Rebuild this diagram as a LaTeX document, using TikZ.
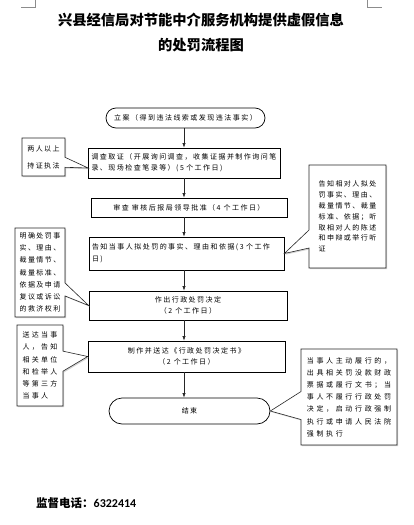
\documentclass[tikz,border=0pt]{standalone}
\usepackage{fontspec}
\setmainfont{Noto Sans CJK SC}
\newfontfamily\cjk{Noto Sans CJK SC}[LetterSpace=21]
\newfontfamily\numfont{Carlito}
\usetikzlibrary{shapes.misc,shapes.callouts,arrows.meta,shadows}
\begin{document}
\begin{tikzpicture}[x=1pt,y=-1pt,
  box/.style={draw, line width=0.7pt, inner sep=3pt, font=\cjk\fontsize{7}{11}\selectfont},
  term/.style={draw, rounded rectangle, line width=0.7pt, inner sep=2pt, font=\cjk\fontsize{7}{11}\selectfont},
  note/.style={rectangle callout, draw=black!85, line width=0.6pt, fill=white, align=left, inner sep=2pt,
    drop shadow={shadow xshift=1.2pt, shadow yshift=-1.2pt, fill=black!35},
    font=\cjk\fontsize{7}{12.2}\selectfont},
  arr/.style={-{Latex[length=4.5pt,width=3.2pt]}, line width=0.6pt, draw=black!85},
  crop/.style={draw=black!45, line width=0.6pt}
]
\useasboundingbox (0,0) rectangle (414,525);
% crop marks
\coordinate (k1) at (21,7); \coordinate (k2) at (35,7); \coordinate (k3) at (35,0);
\coordinate (k4) at (367,0); \coordinate (k5) at (367,7); \coordinate (k6) at (382,7);
\draw[crop] (k1) -- (k2) -- (k3);
\draw[crop] (k4) -- (k5) -- (k6);
% title
\node (t1) at (201,20) {\bfseries\fontsize{14.3}{16}\selectfont 兴县经信局对节能中介服务机构提供虚假信息};
\node (t2) at (201,45) {\bfseries\fontsize{14.3}{16}\selectfont 的处罚流程图};
% main flow
\node[term, minimum width=163pt, minimum height=20pt] (start) at (185.5,118) {立案（得到违法线索或发现违法事实）};
\node[box, minimum width=192pt, minimum height=30pt, text width=186pt, align=left] (b2) at (184.5,163)
  {调查取证（开展询问调查，收集证据并制作询问笔\\录、现场检查笔录等）(5 个工作日)};
\node[box, minimum width=196pt, minimum height=19pt] (b3) at (189,207.5) {审查 审核后报局领导批准（4 个工作日）};
\node[box, minimum width=195pt, minimum height=33pt, text width=189pt, align=left, font=\cjk\fontsize{7}{12}\selectfont] (b4) at (186.5,253.5)
  {告知当事人拟处罚的事实、理由和依据(3 个工作\\日)};
\node[box, minimum width=198pt, minimum height=29pt, align=center, font=\cjk\fontsize{7}{10.5}\selectfont] (b5) at (188,305.5)
  {作出行政处罚决定\\（2 个工作日）};
\node[box, minimum width=197pt, minimum height=31pt, align=center] (b6) at (186.5,356.5)
  {制作并送达《行政处罚决定书》\\（2 个工作日）};
\node[term, minimum width=165pt, minimum height=26pt] (end) at (189.5,411) {结束};
% arrows
\coordinate (ax) at (184,0);
\draw[arr] (start.south -| ax) -- (b2.north -| ax);
\draw[arr] (b2.south -| ax) -- (b3.north -| ax);
\draw[arr] (b3.south -| ax) -- (b4.north -| ax);
\draw[arr] (b4.south -| ax) -- (b5.north -| ax);
\draw[arr] (b5.south -| ax) -- (b6.north -| ax);
\draw[arr] (b6.south -| ax) -- (end.north -| ax);
% callouts
\node[note, minimum width=43pt, minimum height=38pt, callout absolute pointer={([yshift=-5pt]b2.west)},
  callout pointer width=10pt, font=\cjk\fontsize{7}{17}\selectfont] (c1) at (43.5,157) {两人以上\\持证执法};
\node[note, minimum width=77pt, minimum height=103pt, callout absolute pointer={(b4.east)},
  callout pointer width=18pt, font=\cjk\fontsize{7}{10.8}\selectfont] (c2) at (347.5,216.5)
  {告知相对人拟处\\罚事实、理由、\\裁量情节、裁量\\标准、依据；听\\取相对人的陈述\\和申辩或举行听\\证};
\node[note, minimum width=50pt, minimum height=89pt, callout absolute pointer={(b5.west)},
  callout pointer width=13pt] (c3) at (40,272.5)
  {明确处罚事\\实、理由、\\裁量情节、\\裁量标准、\\依据及申请\\复议或诉讼\\的救济权利};
\node[note, minimum width=46pt, minimum height=81pt, callout absolute pointer={(b6.west)},
  callout pointer width=20pt, font=\cjk\addfontfeature{LetterSpace=32}\fontsize{7}{12.2}\selectfont] (c4) at (40,365.5)
  {送达当事\\人，告知\\相关单位\\和检举人\\等第三方\\当事人};
\node[note, minimum width=96pt, minimum height=96pt, callout absolute pointer={(end.east)},
  callout pointer width=28pt, font=\cjk\addfontfeature{LetterSpace=38}\fontsize{7}{12.2}\selectfont] (c5) at (349,397)
  {当事人主动履行的，\\出具相关罚没款财政\\票据或履行文书；当\\事人不履行行政处罚\\决定，启动行政强制\\执行或申请人民法院\\强制执行};
% hotline
\node[anchor=west, inner sep=0pt] (tel) at (36,503)
  {\bfseries\fontsize{11.5}{13}\selectfont 监督电话：{\numfont\fontsize{12}{13}\selectfont 6322414}};
\end{tikzpicture}
\end{document}
